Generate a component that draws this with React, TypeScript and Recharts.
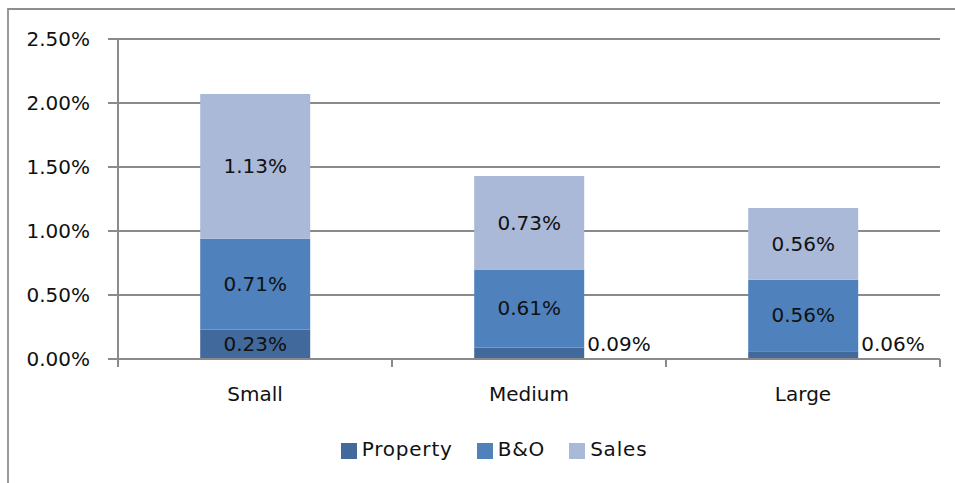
import React from 'react';
import { BarChart, Bar, XAxis, YAxis, CartesianGrid, Legend, LabelList } from 'recharts';

// values, in percent
const categories = ['Small', 'Medium', 'Large'];
const propertyValues = [0.23, 0.09, 0.06];
const bnoValues = [0.71, 0.61, 0.56];
const salesValues = [1.13, 0.73, 0.56];
const yTicks = [0, 0.5, 1, 1.5, 2, 2.5];

const series = [
  { key: 'property', name: 'Property', color: '#41699B' },
  { key: 'bno', name: 'B&O', color: '#4F81BD' },
  { key: 'sales', name: 'Sales', color: '#A9B9D7' },
];

const data = categories.map((name, i) => ({
  name,
  property: propertyValues[i],
  bno: bnoValues[i],
  sales: salesValues[i],
}));

const FONT = '"DejaVu Sans", sans-serif';
const GRID = '#8a8a8a';
const fmt = (v: number) => `${Number(v).toFixed(2)}%`;

// label centred in the segment, or pushed to the right when the segment is too thin
const SegmentLabel = (props: any) => {
  const { x, y, width, height, value } = props;
  const thin = height < 20;
  return (
    <text
      x={thin ? x + width + 3 : x + width / 2}
      y={thin ? y + height - 8 : y + height / 2 + 7}
      textAnchor={thin ? 'start' : 'middle'}
      fontFamily={FONT}
      fontSize={20}
      fill="#111"
    >
      {fmt(value)}
    </text>
  );
};

// category label plus small tick marks at the band edges (Excel style)
const CategoryTick = (props: any) => {
  const { x, y, payload } = props;
  const half = payload?.offset ?? 0;
  return (
    <g>
      {half > 0 && (
        <>
          <line x1={x - half} x2={x - half} y1={y} y2={y + 8} stroke={GRID} strokeWidth={2} />
          <line x1={x + half} x2={x + half} y1={y} y2={y + 8} stroke={GRID} strokeWidth={2} />
        </>
      )}
      <text x={x} y={y + 42} textAnchor="middle" fontFamily={FONT} fontSize={20} fill="#111">
        {payload.value}
      </text>
    </g>
  );
};

const renderLegend = () => (
  <div style={{ display: 'flex', justifyContent: 'center', alignItems: 'center', fontFamily: FONT, fontSize: 20, letterSpacing: 0.8 }}>
    {series.map((s) => (
      <div key={s.key} style={{ display: 'flex', alignItems: 'center', marginRight: 24 }}>
        <span style={{ width: 16, height: 16, background: s.color, marginRight: 5, marginTop: 3 }} />
        <span style={{ color: '#111' }}>{s.name}</span>
      </div>
    ))}
  </div>
);

export default function App() {
  return (
    <div style={{ position: 'fixed', left: 0, top: 0, width: 955, height: 483, overflow: 'hidden', background: '#fff' }}>
      <div
        style={{
          position: 'absolute',
          left: 7,
          top: 8,
          width: 1200,
          height: 800,
          borderTop: '2px solid #8e8e8e',
          borderLeft: '2px solid #9a9a9a',
        }}
      />
      <div style={{ position: 'absolute', left: 0, top: 0 }}>
        <BarChart
          width={955}
          height={483}
          data={data}
          barCategoryGap="30%"
          margin={{ top: 39, right: 15, left: 0, bottom: 94 }}
        >
          <CartesianGrid vertical={false} stroke={GRID} strokeWidth={2} />
          <XAxis
            dataKey="name"
            height={30}
            tickSize={0}
            tickMargin={0}
            tickLine={false}
            axisLine={{ stroke: GRID, strokeWidth: 2 }}
            tick={<CategoryTick />}
            interval={0}
          />
          <YAxis
            width={118}
            domain={[0, 2.5]}
            ticks={yTicks}
            tickFormatter={fmt}
            tickSize={10}
            tickMargin={18}
            tickLine={{ stroke: GRID, strokeWidth: 2 }}
            axisLine={{ stroke: GRID, strokeWidth: 2 }}
            tick={{ fontFamily: FONT, fontSize: 20, fill: '#111' }}
          />
          <Legend
            verticalAlign="middle"
            align="center"
            content={renderLegend}
            wrapperStyle={{ top: 437, left: 36 }}
          />
          {series.map((s) => (
            <Bar key={s.key} dataKey={s.key} name={s.name} stackId="a" fill={s.color} isAnimationActive={false}>
              <LabelList dataKey={s.key} content={<SegmentLabel />} />
            </Bar>
          ))}
        </BarChart>
      </div>
    </div>
  );
}
